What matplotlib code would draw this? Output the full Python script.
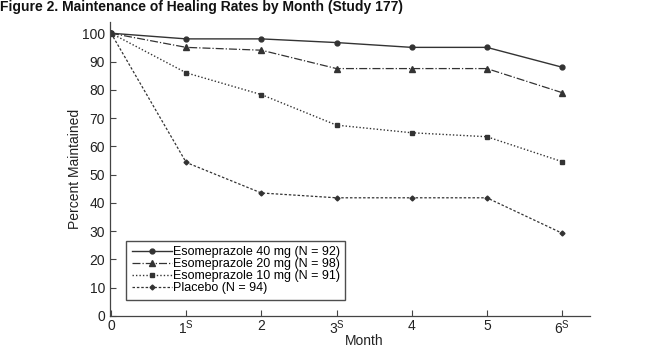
import matplotlib
matplotlib.use("Agg")
import matplotlib.pyplot as plt

months = [0, 1, 2, 3, 4, 5, 6]
month_labels = ["0", "1$^\\mathregular{S}$", "2", "3$^\\mathregular{S}$", "4", "5", "6$^\\mathregular{S}$"]
esome40 = [100, 98, 98, 96.7, 95, 95, 88]
esome20 = [100, 95, 94, 87.5, 87.5, 87.5, 79]
esome10 = [100, 86, 78.3, 67.5, 64.8, 63.4, 54.6]
placebo = [100, 54.3, 43.5, 41.8, 41.8, 41.8, 29.3]
series_names = ["Esomeprazole 40 mg (N = 92)", "Esomeprazole 20 mg (N = 98)",
                "Esomeprazole 10 mg (N = 91)", "Placebo (N = 94)"]
yticks = [0, 10, 20, 30, 40, 50, 60, 70, 80, 90, 100]

plt.rcParams['font.family'] = ['Liberation Sans', 'DejaVu Sans']

fig = plt.figure(figsize=(6.59, 3.48), dpi=100)
ax = fig.add_axes([0.167, 0.092, 0.728, 0.845])

c = "#333333"
ax.plot(months, esome40, color=c, lw=1.0, ls='-', marker='o', ms=3.5, label=series_names[0])
ax.plot(months, esome20, color=c, lw=0.9, ls='-.', marker='^', ms=4, label=series_names[1])
ax.plot(months, esome10, color=c, lw=1.0, ls=(0, (1, 1.5)), marker='s', ms=3.5, label=series_names[2])
ax.plot(months, placebo, color=c, lw=0.9, ls=(0, (2, 1.5)), marker='D', ms=2.5, label=series_names[3])

ax.set_xlim(-0.013, 6.37)
ax.set_ylim(0, 104)
ax.set_xticks(months)
ax.set_xticklabels(month_labels)
ax.set_yticks(yticks)
ax.tick_params(direction='in', length=4, width=0.8, color='#444444', labelsize=10, labelcolor='#222222')
ax.tick_params(axis='x', pad=2)
for s in ['top', 'right']:
    ax.spines[s].set_visible(False)
for s in ['left', 'bottom']:
    ax.spines[s].set_color('#444444')
    ax.spines[s].set_linewidth(0.9)

ax.set_xlabel("Month", fontsize=10, color='#222222')
ax.xaxis.set_label_coords(0.53, -0.062)
ax.set_ylabel("Percent Maintained", fontsize=10, color='#222222', labelpad=0)

leg = ax.legend(loc='lower left', bbox_to_anchor=(0.033, 0.055), fontsize=9, frameon=True,
                fancybox=False, edgecolor='#222222', handlelength=3.2, handletextpad=0.1,
                borderpad=0.45, labelspacing=0.0, borderaxespad=0)
leg.get_frame().set_linewidth(1.0)

fig.text(0.0, 0.999, "Figure 2. Maintenance of Healing Rates by Month (Study 177)",
         fontsize=10, fontweight='bold', ha='left', va='top',
         family=['Liberation Sans Narrow', 'Liberation Sans', 'DejaVu Sans'], color='#111111')

fig.savefig("out.png", dpi=100)
